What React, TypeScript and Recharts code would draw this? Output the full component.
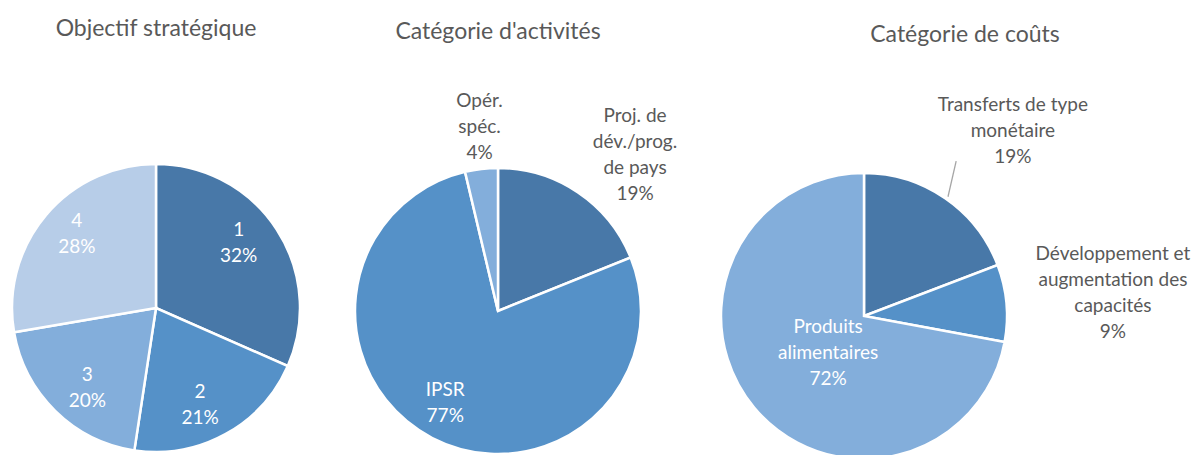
import { Cell, Pie, PieChart } from 'recharts';

const objectifNames = [['1'], ['2'], ['3'], ['4']];
const objectifValues = [31.6, 20.8, 19.9, 27.7];

const activiteNames = [['Proj. de', 'dév./prog.', 'de pays'], ['IPSR'], ['Opér.', 'spéc.']];
const activiteValues = [18.9, 77.4, 3.7];

const coutNames = [
  ['Transferts de type', 'monétaire'],
  ['Développement et', 'augmentation des', 'capacités'],
  ['Produits', 'alimentaires'],
];
const coutValues = [19.2, 8.7, 72.1];

const titles = ['Objectif stratégique', "Catégorie d'activités", 'Catégorie de coûts'];

const DARK = '#4878A8';
const MID = '#5591C8';
const LIGHT = '#83AEDB';
const PALE = '#B7CDE8';
const GRAY = '#595959';
const FONT = 'Lato, "Open Sans", sans-serif';
const RAD = Math.PI / 180;
const LINE_H = 26;

interface Place {
  r: number; // fraction of outer radius
  a: number; // clockwise shift in degrees
  fill: string;
}

interface PieSpec {
  names: string[][];
  values: number[];
  colors: string[];
  places: Place[];
  cx: number;
  cy: number;
  radius: number;
  leader?: number;
}

const specs: PieSpec[] = [
  {
    names: objectifNames,
    values: objectifValues,
    colors: [DARK, MID, LIGHT, PALE],
    places: [
      { r: 0.74, a: -6, fill: '#fff' },
      { r: 0.73, a: 4, fill: '#fff' },
      { r: 0.72, a: -3, fill: '#fff' },
      { r: 0.76, a: 3.5, fill: '#fff' },
    ],
    cx: 156,
    cy: 308,
    radius: 144,
  },
  {
    names: activiteNames,
    values: activiteValues,
    colors: [DARK, MID, LIGHT],
    places: [
      { r: 1.46, a: 7, fill: GRAY },
      { r: 0.73, a: 3, fill: '#fff' },
      { r: 1.31, a: 1, fill: GRAY },
    ],
    cx: 498,
    cy: 311,
    radius: 143,
  },
  {
    names: coutNames,
    values: coutValues,
    colors: [DARK, MID, LIGHT],
    places: [
      { r: 1.67, a: 4, fill: GRAY },
      { r: 1.75, a: -0.6, fill: GRAY },
      { r: 0.35, a: -4.4, fill: '#fff' },
    ],
    cx: 864,
    cy: 316,
    radius: 143,
    leader: 0,
  },
];

const titleX = [156, 498, 965];
const titleY = [27, 30, 33];

function polar(cx: number, cy: number, r: number, clockwiseDeg: number) {
  return {
    x: cx + r * Math.sin(clockwiseDeg * RAD),
    y: cy - r * Math.cos(clockwiseDeg * RAD),
  };
}

function makeLabel(spec: PieSpec) {
  const total = spec.values.reduce((s, v) => s + v, 0);
  return (props: any) => {
    const { cx, cy, midAngle, outerRadius, index } = props;
    const place = spec.places[index];
    const angle = 90 - midAngle + place.a;
    const p = polar(cx, cy, outerRadius * place.r, angle);
    const lines = [...spec.names[index], `${Math.round((spec.values[index] / total) * 100)}%`];
    const startDy = (-(lines.length - 1) / 2) * LINE_H;
    return (
      <text
        x={p.x}
        y={p.y}
        textAnchor="middle"
        dominantBaseline="central"
        fill={place.fill}
        fontFamily={FONT}
        fontSize={19}
      >
        {lines.map((line, i) => (
          <tspan key={i} x={p.x} dy={i === 0 ? startDy : LINE_H}>
            {line}
          </tspan>
        ))}
      </text>
    );
  };
}

function makeLabelLine(spec: PieSpec) {
  return (props: any) => {
    const { cx, cy, midAngle, outerRadius, index } = props;
    if (spec.leader !== index) return <g />;
    const angle = 90 - midAngle;
    const a = polar(cx, cy, outerRadius * 1.02, angle + 0.6);
    const b = polar(cx, cy, outerRadius * 1.26, angle - 3.8);
    return <path d={`M${a.x},${a.y}L${b.x},${b.y}`} stroke="#A6A6A6" strokeWidth={1.3} fill="none" />;
  };
}

export default function App() {
  return (
    <div style={{ position: 'absolute', left: 0, top: 0, width: 1202, height: 455, background: '#fff' }}>
      <PieChart width={1202} height={455} margin={{ top: 0, right: 0, bottom: 0, left: 0 }}>
        {specs.map((spec, si) => (
          <Pie
            key={si}
            data={spec.values.map((v, i) => ({ name: spec.names[i].join(' '), value: v }))}
            dataKey="value"
            cx={spec.cx}
            cy={spec.cy}
            outerRadius={spec.radius}
            startAngle={90}
            endAngle={-270}
            stroke="#fff"
            strokeWidth={2.5}
            label={makeLabel(spec)}
            labelLine={spec.leader === undefined ? false : makeLabelLine(spec)}
            isAnimationActive={false}
          >
            {spec.values.map((_, i) => (
              <Cell key={i} fill={spec.colors[i]} />
            ))}
          </Pie>
        ))}
      </PieChart>
      {titles.map((t, i) => (
        <div
          key={t}
          style={{
            position: 'absolute',
            left: titleX[i] - 200,
            top: titleY[i] - 16,
            width: 400,
            height: 32,
            lineHeight: '32px',
            textAlign: 'center',
            fontFamily: FONT,
            fontSize: 23,
            color: GRAY,
          }}
        >
          {t}
        </div>
      ))}
    </div>
  );
}
